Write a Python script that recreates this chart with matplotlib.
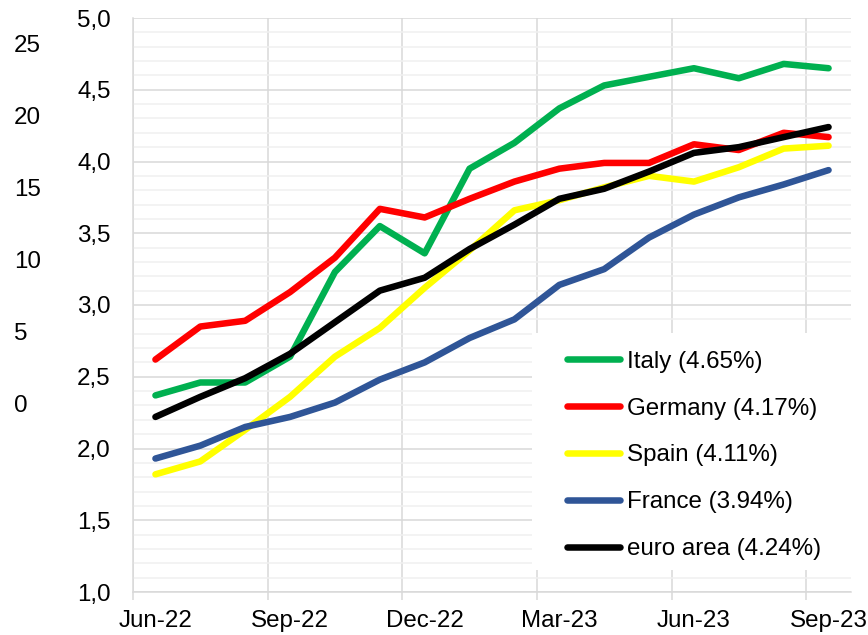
import matplotlib
matplotlib.use('Agg')
import matplotlib.pyplot as plt
from matplotlib.ticker import FixedLocator, MultipleLocator, NullFormatter
from matplotlib.patches import Rectangle

plt.rcParams['font.family'] = ['Liberation Sans', 'DejaVu Sans']

# monthly data, Jun-22 .. Sep-23
months = ['Jun-22', 'Jul-22', 'Aug-22', 'Sep-22', 'Oct-22', 'Nov-22', 'Dec-22', 'Jan-23',
          'Feb-23', 'Mar-23', 'Apr-23', 'May-23', 'Jun-23', 'Jul-23', 'Aug-23', 'Sep-23']
italy = [2.37, 2.46, 2.46, 2.64, 3.23, 3.55, 3.36, 3.95, 4.13, 4.37, 4.53, 4.59, 4.65, 4.58, 4.68, 4.65]
germany = [2.62, 2.85, 2.89, 3.09, 3.33, 3.67, 3.61, 3.74, 3.86, 3.95, 3.99, 3.99, 4.12, 4.08, 4.20, 4.17]
spain = [1.82, 1.91, 2.13, 2.36, 2.64, 2.84, 3.12, 3.38, 3.66, 3.73, 3.82, 3.90, 3.86, 3.96, 4.09, 4.11]
france = [1.93, 2.02, 2.15, 2.22, 2.32, 2.48, 2.60, 2.77, 2.90, 3.14, 3.25, 3.47, 3.63, 3.75, 3.84, 3.94]
euro = [2.22, 2.36, 2.49, 2.66, 2.88, 3.10, 3.19, 3.39, 3.56, 3.74, 3.81, 3.93, 4.06, 4.10, 4.17, 4.24]

series = [('Italy (4.65%)', italy, '#00B050'),
          ('Germany (4.17%)', germany, '#FF0000'),
          ('Spain (4.11%)', spain, '#FFFF00'),
          ('France (3.94%)', france, '#2F5597'),
          ('euro area (4.24%)', euro, '#000000')]

left_ticks = [0, 5, 10, 15, 20, 25]

fs = 17.4
grid_c = '#d9d9d9'

fig = plt.figure(figsize=(8.68, 6.35), dpi=100)
ax = fig.add_axes([133 / 868, 1 - 592 / 635, 718 / 868, 574 / 635])

x = list(range(len(months)))
for name, vals, col in series:
    ax.plot(x, vals, color=col, lw=4.7, label=name,
            solid_capstyle='round', solid_joinstyle='round', zorder=3)

ax.set_xlim(-0.5, len(months) - 0.5)
ax.set_ylim(1.0, 5.0)

# quarterly gridlines between months, labels on the months
ax.xaxis.set_major_locator(FixedLocator([-0.5, 2.5, 5.5, 8.5, 11.5, 14.5]))
ax.xaxis.set_major_formatter(NullFormatter())
ax.xaxis.set_minor_locator(FixedLocator(x[::3]))
ax.set_xticklabels([months[i] for i in x[::3]], minor=True)
ax.tick_params(axis='x', which='major', length=6, width=1.1, color=grid_c)
ax.tick_params(axis='x', which='minor', length=0, pad=13, labelsize=fs)

ax.yaxis.set_major_locator(MultipleLocator(0.5))
ax.yaxis.set_minor_locator(MultipleLocator(0.1))
ax.yaxis.set_major_formatter(lambda v, p: ('%.1f' % v).replace('.', ','))
ax.tick_params(axis='y', which='both', length=0, pad=16, labelsize=fs)

ax.grid(axis='x', which='major', color=grid_c, lw=1.1, zorder=0)
ax.grid(axis='y', which='major', color=grid_c, lw=1.1, zorder=0)
ax.grid(axis='y', which='minor', color='#f0f0f0', lw=1.1, zorder=0)
ax.set_axisbelow(True)

for s in ['top', 'right']:
    ax.spines[s].set_visible(False)
for s in ['left', 'bottom']:
    ax.spines[s].set_color(grid_c)
    ax.spines[s].set_linewidth(1.1)

# second left scale, outer
ax2 = ax.twinx()
ax2.set_ylim(-13.125, 26.74)
ax2.yaxis.tick_left()
ax2.set_yticks(left_ticks)
ax2.tick_params(axis='y', length=0, pad=85.7, labelsize=fs)
for lab in ax2.get_yticklabels():
    lab.set_horizontalalignment('left')
for s in ax2.spines.values():
    s.set_visible(False)

# white legend box
ax.add_patch(Rectangle((0.556, 0.038), 0.444, 0.413, transform=ax.transAxes,
                       facecolor='white', edgecolor='none', zorder=4))
leg = ax.legend(loc='upper left', bbox_to_anchor=(0.6045, 0.4205), frameon=False,
                fontsize=fs, borderpad=0, borderaxespad=0, handlelength=2.2,
                handletextpad=0.3, labelspacing=1.03)
leg.set_zorder(5)

plt.savefig('out.png', dpi=100)
